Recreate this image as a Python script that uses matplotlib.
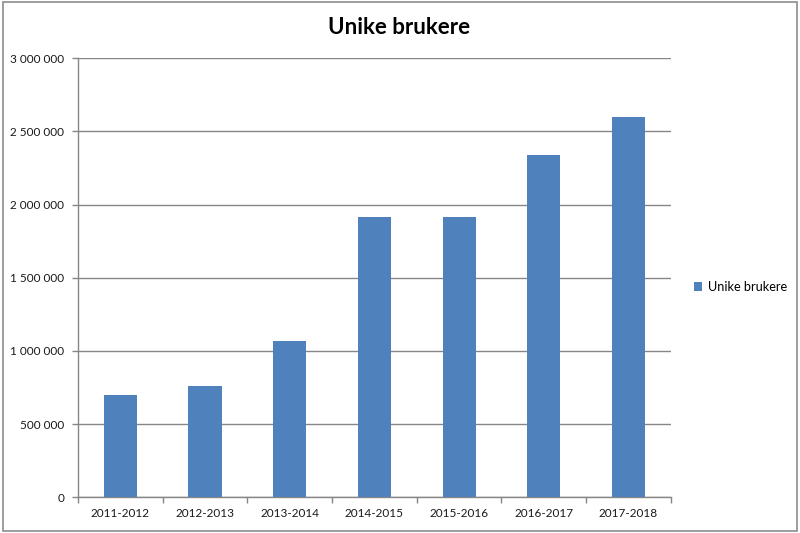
import numpy as np
import matplotlib.pyplot as plt
from matplotlib.patches import Rectangle
from matplotlib.ticker import FuncFormatter, FixedLocator

seasons = ["2011-2012", "2012-2013", "2013-2014", "2014-2015",
           "2015-2016", "2016-2017", "2017-2018"]
users = [697000, 761000, 1070000, 1913000, 1913000, 2337000, 2597000]
series_name = "Unike brukere"

plt.rcParams['font.family'] = ['Lato', 'DejaVu Sans']

fig = plt.figure(figsize=(8, 5.33), dpi=100)
ax = fig.add_axes([78 / 800, 1 - 497.3 / 533, (670.7 - 78) / 800, (497.3 - 58.3) / 533])

x = np.arange(len(seasons))
bars = ax.bar(x, users, width=0.39, color="#4f81bd", label=series_name, zorder=3)

ax.set_xlim(-0.5, len(seasons) - 0.5)
ax.set_ylim(0, 3000000)
ax.set_yticks(np.arange(0, 3000001, 500000))
ax.yaxis.set_major_formatter(FuncFormatter(lambda v, p: f"{int(v):,}".replace(",", " ")))
ax.grid(axis="y", color="#868686", linewidth=1, zorder=0)

ax.set_xticks(x)
ax.set_xticklabels(seasons)
ax.xaxis.set_minor_locator(FixedLocator(np.arange(-0.5, len(seasons), 1.0)))
ax.tick_params(axis="x", which="major", length=0, pad=8, labelsize=8.5, labelcolor="#1a1a1a")
ax.tick_params(axis="x", which="minor", length=4, color="#868686", width=1)
ax.tick_params(axis="y", length=4, color="#868686", width=1, labelsize=8.5,
               labelcolor="#1a1a1a", pad=6)

for side in ["top", "right"]:
    ax.spines[side].set_visible(False)
for side in ["left", "bottom"]:
    ax.spines[side].set_color("#868686")
    ax.spines[side].set_linewidth(1)

fig.text(399 / 800, 1 - 27 / 533, "Unike brukere", ha="center", va="center",
         fontsize=16, fontweight="bold", color="black")

fig.legend(handles=[bars], labels=[series_name], loc="center left",
           bbox_to_anchor=(682 / 800, 1 - 287 / 533), frameon=False,
           fontsize=9.2, handlelength=0.7, handleheight=0.7, handletextpad=0.4)

fig.patches.append(Rectangle((3 / 800, 2 / 533), 794 / 800, 529 / 533,
                             transform=fig.transFigure, fill=False,
                             edgecolor="#8c8c8c", linewidth=1.2))

fig.savefig("out.png", dpi=100)
